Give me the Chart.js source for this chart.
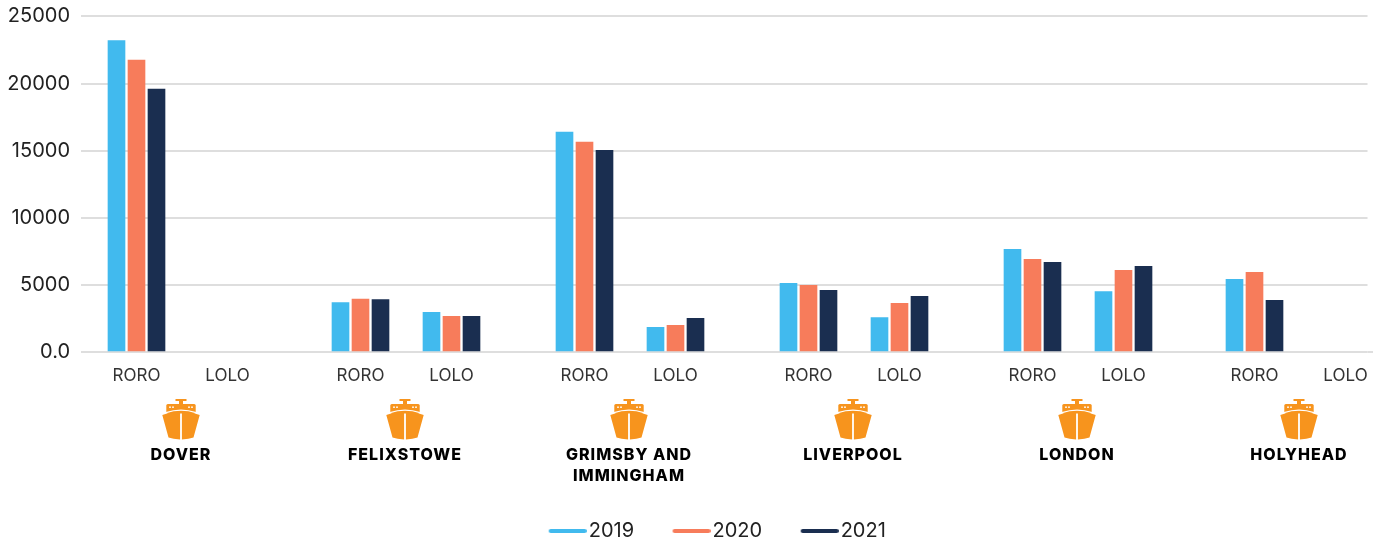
<!DOCTYPE html>
<html>
<head>
<meta charset="utf-8">
<style>
  html, body { margin: 0; padding: 0; background: #fff; }
  #wrap { width: 1383px; height: 545px; position: relative; }
</style>
<script src="https://cdn.jsdelivr.net/npm/chart.js@4"></script>
</head>
<body>
<div id="wrap"><canvas id="portChart"></canvas></div>
<script>
const ports = ['DOVER', 'FELIXSTOWE', 'GRIMSBY AND|IMMINGHAM', 'LIVERPOOL', 'LONDON', 'HOLYHEAD'];
const freightTypes = ['RORO', 'LOLO'];
const years = ['2019', '2020', '2021'];
const yTicks = [0, 5000, 10000, 15000, 20000, 25000];

// each list runs RORO, LOLO per port
const values2019 = [23200, null, 3690, 2950, 16380, 1830, 5110, 2570, 7650, 4510, 5410, null];
const values2020 = [21750, null, 3950, 2650, 15630, 1980, 4960, 3620, 6900, 6080, 5930, null];
const values2021 = [19580, null, 3900, 2650, 15030, 2500, 4590, 4140, 6680, 6380, 3840, null];

const colors = ['#41BAEE', '#F77C5B', '#1A2E50'];
const gridColor = '#DEDEDE';

// layout of the x scale, in pixels from the first RORO group
const portStarts = [0, 224, 448, 672, 896, 1118];
const loloGap = 91;
const xMin = -55.5;
const xMax = 1231;

function slotX(slot) {
  const port = Math.floor(slot / 2);
  return portStarts[port] + (slot % 2 ? loloGap : 0);
}

function toPoints(list) {
  return list.map((y, i) => ({ x: slotX(i), y }));
}

function legendSwatch(color) {
  const c = document.createElement('canvas');
  c.width = 46;
  c.height = 6;
  const g = c.getContext('2d');
  g.strokeStyle = color;
  g.lineWidth = 4;
  g.lineCap = 'round';
  g.beginPath();
  g.moveTo(10, 3);
  g.lineTo(44, 3);
  g.stroke();
  return c;
}

function drawShip(ctx, cx, top) {
  ctx.save();
  ctx.translate(cx, top);
  ctx.fillStyle = '#F7941D';
  // mast
  ctx.fillRect(-5.5, 0, 11, 2);
  ctx.fillRect(-2, 1, 4, 6);
  // cabin
  ctx.beginPath();
  ctx.roundRect(-14.7, 5, 29.4, 9.5, 1.5);
  ctx.fill();
  // hull, left and right half
  const hull = new Path2D('M-18.7 16 Q-10 12.4 -0.9 12 L-0.9 40.4 Q-8 40 -12.5 38.4 Z M18.7 16 Q10 12.4 0.9 12 L0.9 40.4 Q8 40 12.5 38.4 Z');
  ctx.fill(hull);
  // white strip between cabin and hull, and windows
  ctx.strokeStyle = '#fff';
  ctx.lineWidth = 1.3;
  ctx.beginPath();
  ctx.moveTo(-15, 13.6);
  ctx.quadraticCurveTo(0, 8.6, 15, 13.6);
  ctx.stroke();
  ctx.fillStyle = '#fff';
  [-11, -8, 8, 11].forEach(dx => {
    ctx.beginPath();
    ctx.arc(dx, 8.2, 0.9, 0, Math.PI * 2);
    ctx.fill();
  });
  ctx.restore();
}

const portCaptions = {
  id: 'portCaptions',
  afterLayout(chart) {
    // legend sits right of centre and lower in the reference
    chart.legend.left += 33.5;
    chart.legend.right += 33.5;
    chart.legend.top += 6;
    chart.legend.bottom += 6;
  },
  beforeDatasetsDraw(chart) {
    // the zero line runs a little past the other grid lines
    const { ctx, chartArea, scales: { y } } = chart;
    const y0 = Math.round(y.getPixelForValue(0));
    ctx.save();
    ctx.fillStyle = gridColor;
    ctx.fillRect(chartArea.right, y0 - 1, 5.5, 2);
    ctx.restore();
  },
  afterDraw(chart) {
    const { ctx, scales: { x } } = chart;
    ctx.save();
    ctx.textAlign = 'center';
    ctx.textBaseline = 'middle';
    ctx.font = '800 16px Inter';
    ctx.letterSpacing = '1px';
    ctx.fillStyle = '#000';
    ports.forEach((name, i) => {
      const cx = x.getPixelForValue(portStarts[i] + loloGap / 2 - 1);
      drawShip(ctx, cx, 399);
      name.split('|').forEach((line, n) => {
        ctx.fillText(line, cx, 455 + n * 21);
      });
    });
    ctx.restore();
  }
};

new Chart(document.getElementById('portChart'), {
  type: 'bar',
  data: {
    datasets: years.map((year, i) => ({
      label: year,
      data: toPoints([values2019, values2020, values2021][i]),
      backgroundColor: colors[i],
      barThickness: 20,
      maxBarThickness: 17
    }))
  },
  plugins: [portCaptions],
  options: {
    responsive: true,
    maintainAspectRatio: false,
    animation: false,
    layout: { padding: { top: 16.4, right: 15.5, left: 0, bottom: 0 } },
    plugins: {
      tooltip: { enabled: false },
      legend: {
        position: 'bottom',
        labels: {
          usePointStyle: true,
          pointStyleWidth: 30,
          boxHeight: 20,
          padding: 38.5,
          color: '#222',
          font: { family: 'Inter', size: 20 },
          generateLabels: chart => years.map((year, i) => ({
            text: year,
            pointStyle: legendSwatch(colors[i]),
            fontColor: '#222',
            datasetIndex: i
          }))
        }
      }
    },
    scales: {
      x: {
        type: 'linear',
        offset: false,
        min: xMin,
        max: xMax,
        afterBuildTicks(scale) {
          scale.ticks = values2019.map((v, i) => ({ value: slotX(i) }));
        },
        afterFit(scale) { scale.height = 124.5; },
        grid: { display: false },
        border: { display: false },
        ticks: {
          autoSkip: false,
          maxRotation: 0,
          padding: 6,
          color: '#333',
          font: { family: 'Inter', size: 17 },
          callback: (v, i) => freightTypes[i % 2]
        }
      },
      y: {
        min: 0,
        max: 25000,
        afterBuildTicks(scale) {
          scale.ticks = yTicks.map(value => ({ value }));
        },
        afterFit(scale) {
          scale.width = 81;
          scale.paddingTop = 0;
          scale.paddingBottom = 0;
        },
        border: { display: false },
        grid: { color: gridColor, lineWidth: 2, drawTicks: false },
        ticks: {
          padding: 11,
          color: '#222',
          font: { family: 'Inter', size: 20 },
          callback: v => (v === 0 ? '0.0' : String(v))
        }
      }
    }
  }
});
</script>
</body>
</html>
